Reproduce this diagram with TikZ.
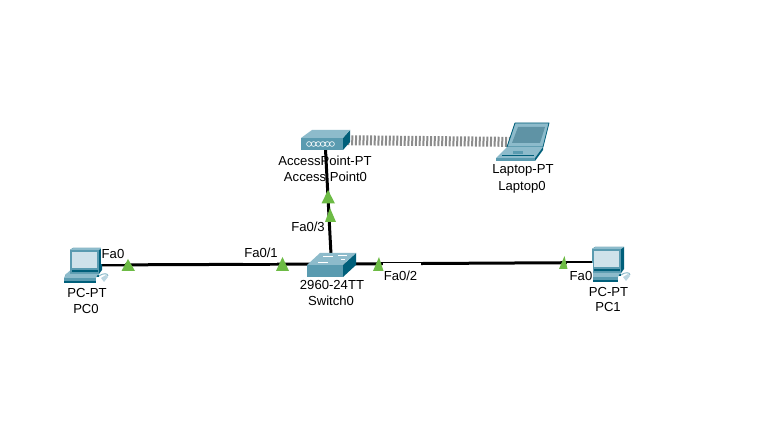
\documentclass[tikz,border=0pt]{standalone}
\usepackage{fontspec}
\setmainfont{Liberation Sans}
\definecolor{tealdk}{HTML}{005F7A}
\definecolor{tealmd}{HTML}{5A9BB0}
\definecolor{teallt}{HTML}{8DBBCB}
\definecolor{scr}{HTML}{CFE2EA}
\definecolor{tri}{HTML}{6DBB45}
\definecolor{lapscr}{HTML}{5F93A5}
\tikzset{
  txt/.style={font=\fontsize{13.1}{16}\selectfont, inner sep=0pt, text=black},
  dev/.style={inner sep=0pt, minimum size=0pt, outer sep=0pt},
  link/.style={line width=3pt, black},
  air/.style={line width=10pt, draw=black!45, dash pattern=on 2pt off 1.75pt},
  mark tri/.style={fill=tri, draw=none},
  patch/.style={fill=white, draw=none},
}
\newcommand{\pcicon}[2]{%
\begin{scope}[shift={(#1,#2)}]
  % keyboard and base
  \fill[teallt] (-5,25) -- (4,17) -- (30,17) -- (29,25) -- cycle;
  \fill[tealdk] (-5,25) rectangle (29,27);
  \fill[tealmd] (0,23.5) -- (4,19) -- (26,19) -- (25,23.5) -- cycle;
  % monitor
  \fill[tealdk] (0,0) -- (3,-2) -- (32,-2) -- (32,20) -- (29,24) -- (0,24) -- cycle;
  \fill[tealmd] (0,0) rectangle (29,24);
  \fill[teallt] (3,-2) -- (32,-2) -- (29,0) -- (0,0) -- cycle;
  \fill[scr] (2,2) rectangle (27,18);
  \fill[tealdk] (2,20) rectangle (28,22);
  \fill[teallt] (-4,24) -- (28,24) -- (26,28) -- (-6,28) -- cycle;
  \fill[tealmd] (-6,28) rectangle (26,31);
  \fill[tealdk] (-6,31) rectangle (26,33);
  % mouse
  \draw[teallt, line width=1pt] (29,26) .. controls (33,23) and (38,23) .. (38,26);
  \fill[scr!70!teallt] (31,28) -- (36,25) -- (38,27) -- (34,32) -- cycle;
\end{scope}}
\begin{document}
\begin{tikzpicture}[x=1pt,y=-1pt]
\useasboundingbox (0,0) rectangle (761,427);
\fill[white] (0,0) rectangle (761,427);
% device anchors
\node[dev] (pc0) at (88,265) {};
\node[dev] (sw) at (331.5,264) {};
\node[dev] (pc1) at (607,262.5) {};
\node[dev] (ap) at (325,140) {};
\node[dev] (lap) at (523,142) {};
% device captions under the links
\node[txt] (apa) at (325,160.5) {AccessPoint-PT};
\node[txt] (apb) at (325.5,176.5) {Access Point0};
\node[txt] (lapa) at (523,170.5) {Laptop-PT};
\node[txt] (lapb) at (522,187) {Laptop0};
\node[txt] (pc0a) at (87,293) {PC-PT};
\node[txt] (pc0b) at (86,309) {PC0};
\node[txt] (pc1a) at (608.5,291.5) {PC-PT};
\node[txt] (pc1b) at (608,307) {PC1};
\node[txt] (swa) at (332,285) {2960-24TT};
\node[txt] (swb) at (331,301) {Switch0};
% links
\draw[air] (ap) -- (lap);
\draw[link] (pc0) -- (sw);
\draw[link] (sw) -- (pc1);
\draw[link] (ap) -- (sw);
% PCs
\pcicon{70}{250}
\pcicon{592}{249}
% label patches
\fill[patch] (100.5,246) rectangle (125,264.5);
\fill[patch] (243,245) rectangle (277,263);
\fill[patch] (383,263) rectangle (421,285);
\fill[patch] (567,263.5) rectangle (592.5,287);
% port labels
\node[txt] (l1) at (113,253.5) {Fa0};
\node[txt] (l2) at (261,253) {Fa0/1};
\node[txt] (l3) at (400.5,276) {Fa0/2};
\node[txt] (l4) at (581,275.5) {Fa0};
\node[txt] (l5) at (308,227) {Fa0/3};
% link lights
\fill[mark tri] (121.5,271) -- (128,259) -- (135,271) -- cycle;
\fill[mark tri] (276,271) -- (282.5,257) -- (289,271) -- cycle;
\fill[mark tri] (373,271) -- (379,257) -- (383.5,271) -- cycle;
\fill[mark tri] (559,269) -- (564.5,256) -- (567.5,269) -- cycle;
\fill[mark tri] (321.5,203.5) -- (328,190) -- (335,203.5) -- cycle;
\fill[mark tri] (325,222) -- (330,208) -- (336,222) -- cycle;
% access point
\fill[tealdk] (343,138) -- (350,130) -- (350,142) -- (343,150) -- cycle;
\fill[teallt] (301,138) -- (312,130) -- (350,130) -- (343,138) -- cycle;
\fill[tealmd] (301,138) rectangle (343,150);
\foreach \i in {0,...,5} \draw[white, line width=.6pt] (309+\i*4.6,144) circle (2.4pt);
% switch
\fill[tealdk] (343,265) -- (356,253) -- (356,265) -- (343,277) -- cycle;
\fill[teallt] (307,265) -- (320,253) -- (356,253) -- (343,265) -- cycle;
\fill[tealmd] (307,265) rectangle (343,277);
\draw[white, line width=.8pt] (323,256) -- (333,256) (338,255) -- (347,255) (318,262) -- (328,262) (341,259) -- (345,259);
% laptop
\fill[teallt] (515,123) -- (549,123) -- (543,147) -- (507,147) -- cycle;
\draw[tealdk, line width=.8pt, line join=round] (515,123) -- (549,123) -- (543,147) -- (507,147) -- cycle;
\fill[lapscr] (518,127) -- (545,127) -- (540,143) -- (512,143) -- cycle;
\fill[teallt] (496,158) -- (507,147) -- (543,147) -- (535,158) -- cycle;
\draw[tealdk, line width=.5pt] (502,155) -- (534,155);
\fill[tealmd] (513,151) rectangle (523,154.5);
\fill[tealmd] (496,158) -- (535,158) -- (535,161) -- (496,161) -- cycle;
\fill[tealdk] (535,158) -- (543,147) -- (543,150) -- (535,161) -- cycle;
\end{tikzpicture}
\end{document}
